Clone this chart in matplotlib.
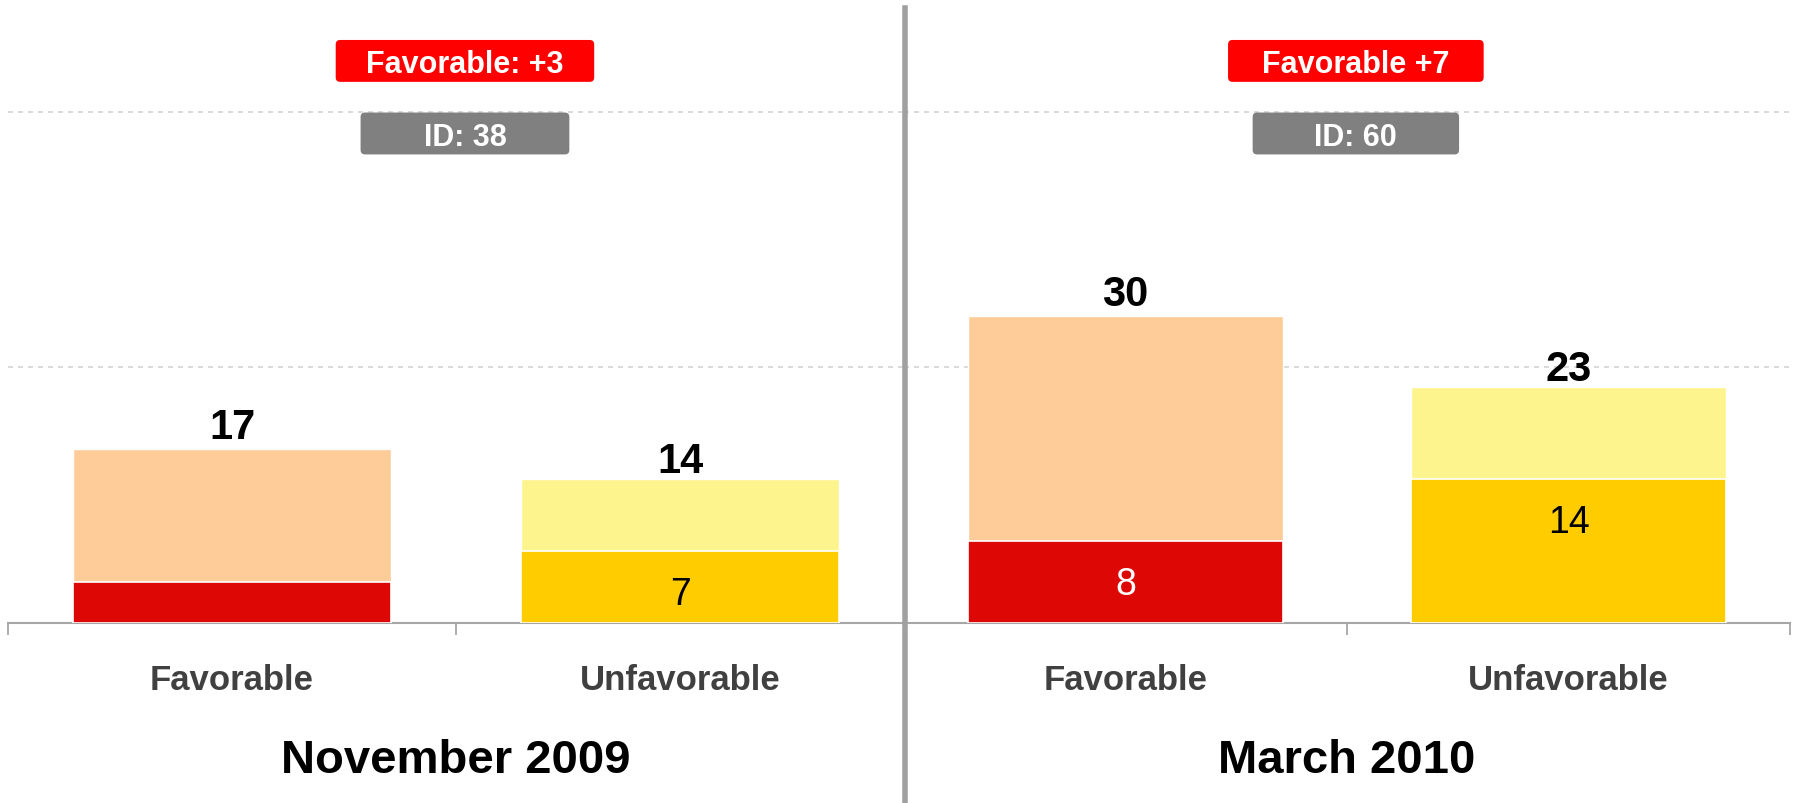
import matplotlib
matplotlib.use("Agg")
import matplotlib.pyplot as plt
from matplotlib.patches import FancyBboxPatch
from matplotlib.lines import Line2D
from matplotlib.transforms import blended_transform_factory

plt.rcParams['font.family'] = ['Liberation Sans', 'DejaVu Sans']

# ---------------- data ----------------
periods = ["November 2009", "March 2010"]
categories = ["Favorable", "Unfavorable"]
totals = [[17, 14], [30, 23]]
inner = [[4, 7], [8, 14]]
inner_labels = [["", "7"], ["8", "14"]]
badge_texts = ["Favorable: +3", "Favorable +7"]
id_texts = ["ID: 38", "ID: 60"]

# ---------------- style ----------------
outer_colors = ["#FECC99", "#FEF48E"]
inner_colors = ["#DD0806", "#FFCC00"]
inner_text_colors = ["white", "black"]
top_label_offsets = [8, 5]   # points above bar, per category

W, H = 1794, 804
fig = plt.figure(figsize=(W / 100, H / 100), dpi=100)

def rect(x0, x1, ytop, ybot):
    return [x0 / W, 1 - ybot / H, (x1 - x0) / W, (ybot - ytop) / H]

ax_rects = [rect(8, 904, 10.3, 623.5), rect(904, 1790, 10.3, 623.5)]

for p, period in enumerate(periods):
    ax = fig.add_axes(ax_rects[p])
    ax.set_xlim(-0.5, 1.5)
    ax.set_ylim(0, 60)
    xs = list(range(len(categories)))
    ax.bar(xs, totals[p], width=0.71, color=outer_colors, edgecolor="white",
           linewidth=1, zorder=2)
    ax.bar(xs, inner[p], width=0.71, color=inner_colors, edgecolor="white",
           linewidth=1.2, zorder=3)
    for i, x in enumerate(xs):
        ax.annotate(str(totals[p][i]), (x, totals[p][i]),
                    xytext=(0, top_label_offsets[i]),
                    textcoords="offset points", ha="center", va="baseline",
                    fontsize=30, fontweight="bold", color="black", zorder=5)
        if inner_labels[p][i]:
            ax.annotate(inner_labels[p][i], (x, inner[p][i]), xytext=(0, -28),
                        textcoords="offset points", ha="center",
                        va="center_baseline", fontsize=27,
                        color=inner_text_colors[i], zorder=5)

    for s in ["top", "left", "right"]:
        ax.spines[s].set_visible(False)
    ax.spines["bottom"].set_color("#a6a6a6")
    ax.spines["bottom"].set_linewidth(1.5)

    ax.set_yticks([25, 50])
    ax.tick_params(axis="y", length=0, labelleft=False)
    ax.yaxis.grid(True, color="#d3d3d3", linewidth=1.2, linestyle=(0, (3, 3)), zorder=0)
    ax.set_axisbelow(True)

    ax.set_xticks([-0.5, 0.5, 1.5])
    ax.set_xticklabels([])
    ax.tick_params(axis="x", which="major", length=8.6, width=1.3,
                   color="#a6a6a6", direction="out")
    ax.set_xticks(xs, minor=True)
    ax.set_xticklabels(categories, minor=True, fontsize=25, fontweight="bold",
                       color="#404040")
    ax.tick_params(axis="x", which="minor", length=0, pad=29)

    # period title
    tr = blended_transform_factory(ax.transAxes, fig.transFigure)
    ax.text(0.5, (H - 773) / H, period, transform=tr, ha="center",
            va="baseline", fontsize=34, fontweight="bold", color="black")

    # badges
    for (txt, fc, cx, w, y0, h) in [
        (badge_texts[p], "#FF0000", 0.52, 0.577, 52.9, 4.1),
        (id_texts[p], "#808080", 0.52, 0.466, 45.8, 4.1),
    ]:
        box = FancyBboxPatch((cx - w / 2, y0), w, h,
                             boxstyle="round,pad=0,rounding_size=0.01",
                             mutation_aspect=44, fc=fc, ec="none",
                             transform=ax.transData, clip_on=False, zorder=4)
        ax.add_patch(box)
        ax.text(cx, y0 + h / 2, txt, ha="center", va="center_baseline",
                fontsize=22, fontweight="bold", color="white", zorder=5)

# vertical divider
fig.add_artist(Line2D([904.5 / W, 904.5 / W], [0, 1 - 9 / H],
                      transform=fig.transFigure, color="#a0a0a0", linewidth=4))

fig.savefig("out.png", dpi=100)
